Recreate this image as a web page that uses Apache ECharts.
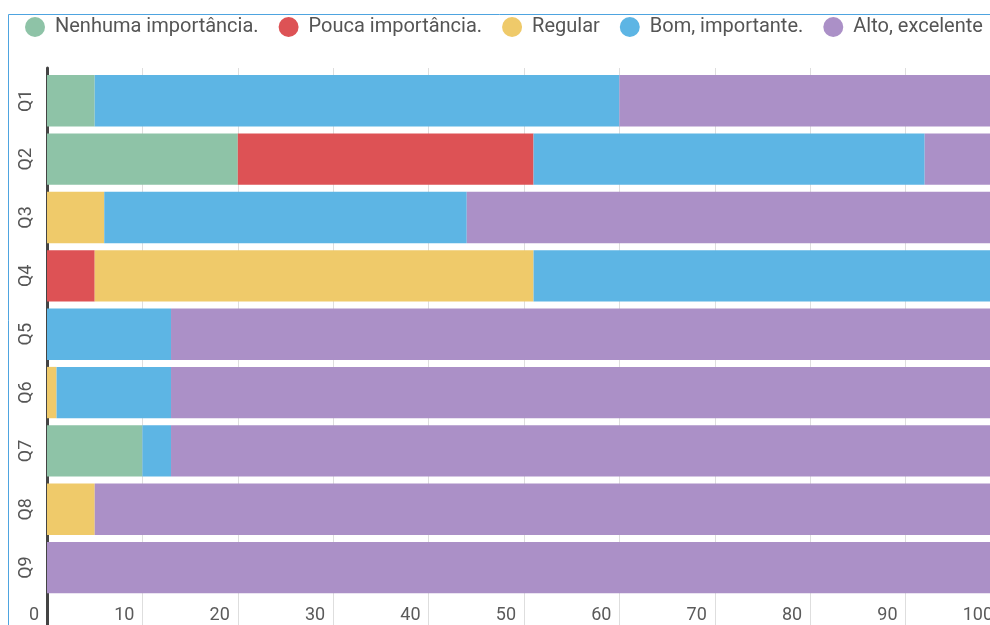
<!DOCTYPE html>
<html>
<head>
<meta charset="utf-8">
<script src="https://cdn.jsdelivr.net/npm/echarts@6/dist/echarts.min.js"></script>
<style>
  html, body { margin: 0; padding: 0; background: #ffffff; }
  #chart { width: 990px; height: 625px; }
</style>
</head>
<body>
<div id="chart"></div>
<script>
// Survey answers per question (percent of respondents)
const categories = ['Q1', 'Q2', 'Q3', 'Q4', 'Q5', 'Q6', 'Q7', 'Q8', 'Q9'];
const seriesNames = ['Nenhuma importância.', 'Pouca importância.', 'Regular', 'Bom, importante.', 'Alto, excelente'];
const nenhuma = [5, 20, 0, 0, 0, 0, 10, 0, 0];
const pouca   = [0, 31, 0, 5, 0, 0, 0, 0, 0];
const regular = [0, 0, 6, 46, 0, 1, 0, 5, 0];
const bom     = [55, 41, 38, 49, 13, 12, 3, 0, 0];
const alto    = [40, 8, 56, 0, 87, 87, 87, 95, 100];
const xMin = 0, xMax = 100, xStep = 10;

const colors = ['#8ec3a7', '#dd5255', '#efca6a', '#5db5e4', '#ab90c7'];
const values = [nenhuma, pouca, regular, bom, alto];

const chart = echarts.init(document.getElementById('chart'));

chart.setOption({
  animation: false,
  color: colors,
  textStyle: { fontFamily: 'Roboto, "Noto Sans", sans-serif' },
  graphic: [{
    type: 'rect',
    silent: true,
    z: -10,
    shape: { x: 8.5, y: 14.5, width: 1500, height: 1200 },
    style: { fill: 'none', stroke: '#4ea4e0', lineWidth: 1 }
  }],
  legend: {
    left: 20,
    top: 12,
    width: 1200,
    icon: 'circle',
    itemWidth: 20,
    itemHeight: 20,
    itemGap: 20,
    data: seriesNames,
    textStyle: { fontSize: 20, color: '#555555', padding: [0, 0, 0, 5] }
  },
  grid: [
    // background grid: split lines and the dark value baseline
    { left: 47, width: 954, top: 68, height: 580, outerBoundsMode: 'none', containLabel: false },
    // bars
    { left: 47, width: 954, top: 71.6, height: 525.2, outerBoundsMode: 'none', containLabel: false }
  ],
  xAxis: [
    {
      gridIndex: 0, type: 'value', min: xMin, max: xMax, interval: xStep,
      axisLine: { show: false }, axisTick: { show: false }, axisLabel: { show: false },
      splitLine: { show: true, lineStyle: { color: '#dedede', width: 1 } }
    },
    {
      gridIndex: 1, type: 'value', min: xMin, max: xMax, interval: xStep,
      axisLine: { show: false }, axisTick: { show: false },
      splitLine: { show: false },
      axisLabel: {
        show: true, fontSize: 18, color: '#5a5a5a', align: 'right',
        padding: [0, 8, 0, 0], margin: 10
      }
    }
  ],
  yAxis: [
    {
      gridIndex: 0, type: 'value', min: 0, max: 1,
      axisLine: { show: true, lineStyle: { color: '#444444', width: 3 } },
      axisTick: { show: false }, axisLabel: { show: false }, splitLine: { show: false }
    },
    {
      gridIndex: 1, type: 'category', data: categories, inverse: true,
      axisLine: { show: false }, axisTick: { show: false },
      axisLabel: { rotate: 90, fontSize: 18, color: '#555555', margin: 12 }
    }
  ],
  series: seriesNames.map((name, i) => ({
    name: name,
    type: 'bar',
    stack: 'total',
    xAxisIndex: 1,
    yAxisIndex: 1,
    barCategoryGap: '12%',
    data: values[i],
    itemStyle: { color: colors[i] }
  }))
});
</script>
</body>
</html>
